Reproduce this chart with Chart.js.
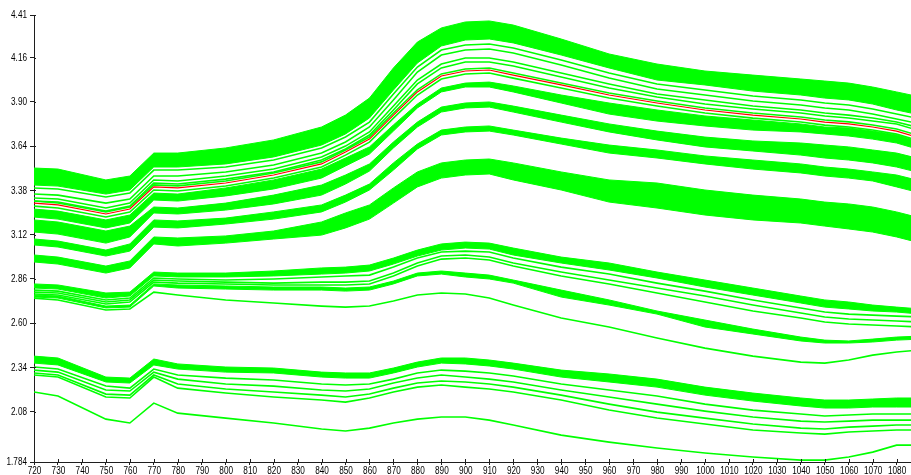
<!DOCTYPE html>
<html>
<head>
<meta charset="utf-8">
<script src="https://cdn.jsdelivr.net/npm/chart.js@4/dist/chart.umd.min.js"></script>
<style>
  html, body { margin: 0; padding: 0; background: #ffffff; }
  #wrap { position: relative; width: 911px; height: 475px; }
</style>
</head>
<body>
<div id="wrap"><canvas id="spectra"></canvas></div>
<script>
// Wavelength grid (nm) shared by every spectrum
const wavelengths = [720,730,750,760,770,780,800,820,840,850,860,870,880,890,900,910,920,940,960,980,1000,1020,1040,1050,1060,1070,1080,1090];

// Axis ticks
const xTicks = [720,730,740,750,760,770,780,790,800,810,820,830,840,850,860,870,880,890,900,910,920,930,940,950,960,970,980,990,1000,1010,1020,1030,1040,1050,1060,1070,1080];
const yTicks = [1.784,2.08,2.34,2.60,2.86,3.12,3.38,3.64,3.90,4.16,4.41];
const yTickLabels = ['1.784','2.08','2.34','2.60','2.86','3.12','3.38','3.64','3.90','4.16','4.41'];

// Upper cluster: dense band edges and single spectra
const upperBandTop    = [3.511,3.505,3.441,3.464,3.599,3.599,3.629,3.676,3.752,3.822,3.922,4.099,4.251,4.334,4.369,4.375,4.351,4.269,4.181,4.122,4.081,4.057,4.034,4.022,4.010,3.987,3.958,3.928];
const upperBandBottom = [3.411,3.405,3.358,3.382,3.517,3.517,3.535,3.576,3.646,3.711,3.805,3.969,4.128,4.228,4.263,4.269,4.246,4.175,4.099,4.028,3.999,3.963,3.940,3.922,3.911,3.887,3.852,3.822];
const upper1 = [3.394,3.388,3.341,3.364,3.499,3.499,3.517,3.558,3.629,3.693,3.781,3.946,4.104,4.204,4.234,4.240,4.216,4.146,4.069,4.005,3.969,3.934,3.911,3.893,3.881,3.858,3.828,3.799];
const upper2 = [3.358,3.352,3.305,3.329,3.464,3.464,3.488,3.529,3.599,3.664,3.752,3.911,4.075,4.175,4.204,4.210,4.187,4.116,4.040,3.975,3.940,3.905,3.881,3.864,3.852,3.828,3.799,3.770];
const upper3 = [3.335,3.329,3.276,3.305,3.441,3.435,3.464,3.505,3.576,3.640,3.723,3.875,4.028,4.122,4.157,4.157,4.134,4.069,4.005,3.946,3.911,3.875,3.852,3.834,3.822,3.805,3.781,3.746];
const upper4 = [3.317,3.311,3.258,3.288,3.423,3.417,3.446,3.488,3.558,3.623,3.705,3.852,4.005,4.099,4.134,4.134,4.110,4.046,3.981,3.928,3.887,3.858,3.834,3.817,3.805,3.787,3.770,3.728];
const nearAbove = [3.317,3.306,3.253,3.282,3.412,3.406,3.435,3.482,3.547,3.617,3.693,3.834,3.970,4.064,4.093,4.099,4.069,4.011,3.952,3.905,3.864,3.834,3.811,3.793,3.782,3.764,3.740,3.699];
const highlighted = [3.305,3.294,3.241,3.270,3.400,3.394,3.423,3.470,3.535,3.605,3.681,3.822,3.958,4.052,4.081,4.087,4.057,3.999,3.940,3.893,3.852,3.822,3.799,3.781,3.770,3.752,3.728,3.687];
const nearBelow = [3.287,3.276,3.223,3.252,3.382,3.376,3.405,3.452,3.517,3.587,3.663,3.804,3.940,4.034,4.063,4.069,4.039,3.981,3.922,3.875,3.834,3.804,3.781,3.763,3.752,3.734,3.710,3.669];
const group1Top    = [3.270,3.258,3.206,3.235,3.364,3.358,3.394,3.441,3.505,3.570,3.635,3.764,3.887,3.981,4.010,4.016,3.993,3.940,3.893,3.852,3.817,3.793,3.770,3.752,3.746,3.728,3.705,3.664];
const group1Bottom = [3.223,3.211,3.159,3.188,3.323,3.317,3.347,3.388,3.452,3.523,3.593,3.728,3.864,3.958,3.987,3.987,3.958,3.893,3.828,3.787,3.758,3.734,3.723,3.711,3.699,3.681,3.658,3.617];
const group2Top    = [3.206,3.194,3.141,3.170,3.282,3.276,3.305,3.352,3.411,3.470,3.535,3.664,3.781,3.869,3.893,3.899,3.875,3.822,3.770,3.728,3.693,3.670,3.658,3.646,3.635,3.617,3.599,3.564];
const group2Bottom = [3.135,3.123,3.070,3.106,3.247,3.241,3.264,3.300,3.352,3.417,3.493,3.629,3.752,3.840,3.864,3.869,3.840,3.781,3.723,3.676,3.635,3.611,3.587,3.570,3.558,3.541,3.517,3.482];
const group3Top    = [3.094,3.082,3.029,3.065,3.206,3.200,3.217,3.253,3.294,3.352,3.417,3.541,3.652,3.734,3.752,3.758,3.734,3.687,3.646,3.617,3.582,3.558,3.535,3.517,3.505,3.488,3.470,3.435];
const group3Bottom = [3.059,3.047,2.994,3.023,3.164,3.159,3.182,3.211,3.253,3.311,3.382,3.499,3.623,3.705,3.723,3.728,3.705,3.652,3.599,3.570,3.535,3.505,3.482,3.464,3.452,3.435,3.400,3.364];
const group4Top    = [3.000,2.988,2.935,2.965,3.106,3.100,3.112,3.141,3.194,3.247,3.294,3.394,3.488,3.541,3.558,3.564,3.541,3.488,3.441,3.423,3.382,3.352,3.329,3.311,3.300,3.282,3.253,3.217];
const group4Bottom = [2.959,2.947,2.894,2.924,3.065,3.053,3.070,3.094,3.117,3.159,3.211,3.305,3.400,3.452,3.470,3.476,3.441,3.382,3.311,3.276,3.235,3.206,3.188,3.170,3.153,3.135,3.106,3.070];

// Middle cluster
const midBandTop    = [2.830,2.824,2.777,2.782,2.900,2.894,2.894,2.906,2.924,2.929,2.941,2.982,3.029,3.065,3.076,3.070,3.041,2.988,2.953,2.900,2.853,2.806,2.759,2.736,2.724,2.706,2.694,2.683];
const midBandBottom = [2.806,2.800,2.747,2.759,2.877,2.871,2.871,2.877,2.888,2.894,2.906,2.947,2.994,3.029,3.041,3.035,3.000,2.953,2.912,2.865,2.812,2.765,2.718,2.694,2.683,2.671,2.665,2.653];
const mid1 = [2.794,2.788,2.736,2.747,2.865,2.859,2.853,2.859,2.871,2.877,2.882,2.929,2.982,3.018,3.023,3.018,2.982,2.929,2.888,2.835,2.788,2.736,2.689,2.665,2.653,2.647,2.641,2.636];
const mid2 = [2.782,2.777,2.724,2.736,2.853,2.847,2.841,2.835,2.841,2.841,2.847,2.894,2.953,2.994,3.000,2.988,2.953,2.900,2.853,2.806,2.759,2.706,2.659,2.636,2.624,2.618,2.612,2.606];
const mid3 = [2.771,2.765,2.712,2.724,2.841,2.835,2.830,2.824,2.824,2.824,2.830,2.877,2.935,2.976,2.982,2.971,2.935,2.877,2.830,2.777,2.724,2.671,2.630,2.606,2.595,2.589,2.583,2.577];
const midLowTop    = [2.765,2.759,2.700,2.706,2.830,2.824,2.818,2.812,2.812,2.806,2.812,2.847,2.894,2.906,2.894,2.882,2.853,2.794,2.736,2.671,2.618,2.565,2.518,2.500,2.495,2.506,2.518,2.524];
const midLowBottom = [2.753,2.747,2.689,2.694,2.818,2.806,2.800,2.794,2.794,2.788,2.794,2.830,2.877,2.888,2.871,2.859,2.835,2.753,2.706,2.653,2.577,2.536,2.495,2.483,2.483,2.489,2.500,2.506];
const midLowest = [2.747,2.736,2.677,2.683,2.782,2.765,2.736,2.718,2.700,2.694,2.700,2.730,2.765,2.777,2.771,2.747,2.706,2.630,2.577,2.512,2.453,2.406,2.371,2.365,2.383,2.412,2.430,2.442];

// Lower cluster
const lowBandTop    = [2.406,2.395,2.283,2.277,2.389,2.360,2.342,2.336,2.312,2.307,2.307,2.336,2.371,2.395,2.395,2.383,2.365,2.324,2.301,2.271,2.224,2.189,2.160,2.148,2.148,2.154,2.160,2.160];
const lowBandBottom = [2.365,2.354,2.254,2.248,2.354,2.330,2.312,2.307,2.283,2.277,2.277,2.307,2.342,2.365,2.360,2.348,2.330,2.283,2.254,2.224,2.177,2.142,2.113,2.101,2.101,2.107,2.107,2.107];
const low1 = [2.342,2.330,2.230,2.218,2.330,2.295,2.277,2.266,2.242,2.236,2.242,2.271,2.307,2.324,2.318,2.307,2.289,2.242,2.207,2.172,2.124,2.089,2.066,2.054,2.060,2.066,2.066,2.066];
const low2 = [2.324,2.312,2.207,2.201,2.312,2.271,2.242,2.230,2.207,2.201,2.213,2.248,2.277,2.295,2.283,2.271,2.254,2.207,2.166,2.124,2.083,2.048,2.024,2.019,2.024,2.030,2.030,2.030];
const low3 = [2.307,2.295,2.183,2.177,2.295,2.242,2.213,2.195,2.177,2.166,2.183,2.218,2.248,2.260,2.254,2.242,2.224,2.177,2.124,2.077,2.042,2.007,1.983,1.978,1.989,1.995,2.001,2.001];
const low4 = [2.295,2.283,2.166,2.160,2.283,2.218,2.189,2.166,2.148,2.136,2.160,2.195,2.224,2.236,2.224,2.213,2.195,2.148,2.089,2.042,2.007,1.972,1.954,1.948,1.960,1.966,1.972,1.972];
const lowest = [2.195,2.172,2.036,2.013,2.130,2.071,2.042,2.013,1.978,1.966,1.983,2.013,2.036,2.048,2.048,2.030,2.001,1.942,1.901,1.866,1.837,1.813,1.795,1.795,1.813,1.842,1.883,1.883];

const GREEN = '#00ff00';
const RED = '#ff0000';
const AXIS = '#1e1e1e';

// Bands are drawn as a top edge filled down to its bottom edge
const bands = [
  [upperBandTop, upperBandBottom],
  [group1Top, group1Bottom],
  [group2Top, group2Bottom],
  [group3Top, group3Bottom],
  [group4Top, group4Bottom],
  [midBandTop, midBandBottom],
  [midLowTop, midLowBottom],
  [lowBandTop, lowBandBottom]
];
const singles = [upper1, upper2, upper3, upper4, nearAbove, nearBelow,
                 mid1, mid2, mid3, midLowest,
                 low1, low2, low3, low4, lowest];

function series(values, color, fill, order, width) {
  return {
    data: values.map((v, i) => ({ x: wavelengths[i], y: v })),
    borderColor: color,
    backgroundColor: color,
    borderWidth: width,
    pointRadius: 0,
    tension: 0,
    fill: fill,
    order: order
  };
}

const datasets = [];
bands.forEach(([top, bottom]) => {
  datasets.push(series(top, GREEN, '+1', 2, 1));
  datasets.push(series(bottom, GREEN, false, 2, 1));
});
singles.forEach(s => datasets.push(series(s, GREEN, false, 1, 1.6)));
datasets.push(series(highlighted, RED, false, 0, 1.2));

// Tick marks that cross into the plot area, plus compact tick labels
const axisDecor = {
  id: 'axisDecor',
  afterDraw(chart) {
    const { ctx, scales: { x, y } } = chart;
    ctx.save();
    ctx.strokeStyle = AXIS;
    ctx.lineWidth = 1;
    ctx.beginPath();
    x.ticks.forEach(t => {
      const px = Math.round(x.getPixelForValue(t.value)) + 0.5;
      ctx.moveTo(px, x.top - 3);
      ctx.lineTo(px, x.top);
    });
    y.ticks.forEach(t => {
      const py = Math.round(y.getPixelForValue(t.value)) + 0.5;
      ctx.moveTo(y.right, py);
      ctx.lineTo(y.right + 2, py);
    });
    ctx.stroke();

    ctx.fillStyle = '#000';
    ctx.font = "10px 'Liberation Sans', Arial, sans-serif";
    const squeeze = 0.82;

    ctx.textAlign = 'center';
    ctx.textBaseline = 'alphabetic';
    x.ticks.forEach(t => {
      const px = x.getPixelForValue(t.value);
      ctx.save();
      ctx.translate(px + 0.5, x.top + 12);
      ctx.scale(squeeze, 1);
      ctx.fillText(String(t.value), 0, 0);
      ctx.restore();
    });

    ctx.textAlign = 'right';
    ctx.textBaseline = 'middle';
    y.ticks.forEach((t, i) => {
      const py = y.getPixelForValue(t.value);
      ctx.save();
      ctx.translate(y.right - 7, py + 0.5);
      ctx.scale(squeeze, 1);
      ctx.fillText(yTickLabels[i], 0, 0);
      ctx.restore();
    });
    ctx.restore();
  }
};

new Chart(document.getElementById('spectra'), {
  type: 'line',
  data: { datasets },
  options: {
    responsive: true,
    maintainAspectRatio: false,
    animation: false,
    layout: { padding: { top: 15, right: 0, bottom: 0, left: 0 } },
    plugins: {
      legend: { display: false },
      tooltip: { enabled: false },
      filler: { propagate: false }
    },
    scales: {
      x: {
        type: 'linear',
        min: 720,
        max: 1086,
        afterBuildTicks: s => { s.ticks = xTicks.map(v => ({ value: v })); },
        afterFit: s => { s.height = 13; },
        ticks: { display: false },
        grid: { drawOnChartArea: false, drawTicks: true, tickLength: 3, color: AXIS },
        border: { color: AXIS, width: 1 }
      },
      y: {
        type: 'linear',
        min: 1.784,
        max: 4.41,
        afterBuildTicks: s => { s.ticks = yTicks.map(v => ({ value: v })); },
        afterFit: s => { s.width = 34; },
        ticks: { display: false },
        grid: { drawOnChartArea: false, drawTicks: true, tickLength: 4, color: AXIS },
        border: { color: AXIS, width: 1 }
      }
    }
  },
  plugins: [axisDecor]
});
</script>
</body>
</html>
